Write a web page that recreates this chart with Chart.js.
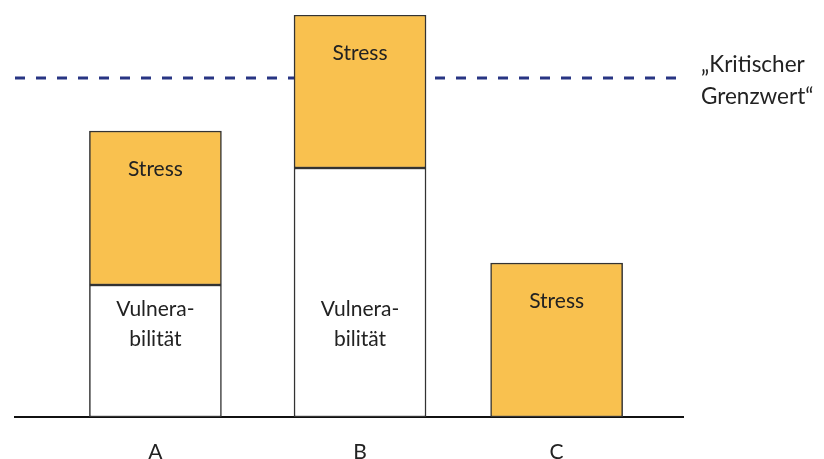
<!DOCTYPE html>
<html>
<head>
<meta charset="utf-8">
<script src="https://cdn.jsdelivr.net/npm/chart.js@4.4.1/dist/chart.umd.min.js"></script>
<style>
  html, body { margin: 0; padding: 0; background: #fff; }
  #wrap { width: 824px; height: 459px; position: relative; }
</style>
</head>
<body>
<div id="wrap"><canvas id="chart"></canvas></div>
<script>
// categories and their positions on the x axis
const categories = ["A", "B", "C"];
const catPos = [1, 2.02, 3];
// stacked segments (arbitrary units)
const vulnerability = [33, 62.25, 0];
const stress = [38.5, 38.25, 38.5];
// critical threshold
const threshold = 84.75;
const thresholdLabel = ["„Kritischer", "Grenzwert“"];
const stressLabel = "Stress";
const vulnLabel = ["Vulnera-", "bilität"];

const TEXT = "#222222";
const FONT = "Lato, 'Open Sans', sans-serif";

// writes the segment labels and the threshold caption
const labelPlugin = {
  id: "labels",
  afterDatasetsDraw(chart) {
    const ctx = chart.ctx;
    ctx.save();
    ctx.fillStyle = TEXT;
    ctx.font = "21px " + FONT;
    ctx.textAlign = "center";
    ctx.textBaseline = "middle";
    const bottom = chart.chartArea.bottom;
    const vMeta = chart.getDatasetMeta(0);
    const sMeta = chart.getDatasetMeta(1);
    vMeta.data.forEach((bar, i) => {
      if (!vulnerability[i]) return;
      const y = Math.max(bar.y + 24, bottom - 108);
      ctx.fillText(vulnLabel[0], bar.x, y);
      ctx.fillText(vulnLabel[1], bar.x, y + 30);
    });
    sMeta.data.forEach((bar, i) => {
      if (!stress[i]) return;
      ctx.fillText(stressLabel, bar.x, bar.y + 38);
    });
    const yT = chart.scales.y.getPixelForValue(threshold);
    ctx.textAlign = "left";
    ctx.font = "22.5px " + FONT;
    ctx.fillText(thresholdLabel[0], chart.chartArea.right + 18, yT - 13);
    ctx.fillText(thresholdLabel[1], chart.chartArea.right + 18, yT + 19);
    ctx.restore();
  }
};

new Chart(document.getElementById("chart"), {
  type: "bar",
  data: {
    datasets: [
      {
        label: "Vulnerabilität",
        data: catPos.map((x, i) => ({ x, y: vulnerability[i] })),
        backgroundColor: "#ffffff",
        borderColor: "#333333",
        borderWidth: 1.5,
        borderSkipped: false,
        barThickness: 132,
        stack: "s",
        order: 1
      },
      {
        label: "Stress",
        data: catPos.map((x, i) => ({ x, y: stress[i] })),
        backgroundColor: "#F9C14F",
        borderColor: "#333333",
        borderWidth: 1.5,
        borderSkipped: false,
        barThickness: 132,
        stack: "s",
        order: 1
      },
      {
        type: "line",
        label: "Kritischer Grenzwert",
        data: [{ x: 0.3, y: threshold }, { x: 3.63, y: threshold }],
        borderColor: "#283583",
        borderWidth: 3,
        borderDash: [10, 11],
        pointRadius: 0,
        stack: "line",
        order: 2
      }
    ]
  },
  options: {
    responsive: true,
    maintainAspectRatio: false,
    animation: false,
    layout: { padding: { left: 15, right: 141, top: 15, bottom: 0 } },
    plugins: { legend: { display: false }, tooltip: { enabled: false } },
    scales: {
      x: {
        type: "linear",
        stacked: true,
        offset: false,
        min: 0.3,
        max: 3.63,
        grid: { display: false, offset: false },
        border: { display: true, color: "#111111", width: 2 },
        afterBuildTicks: (axis) => { axis.ticks = catPos.map(v => ({ value: v })); },
        afterFit: (axis) => { axis.height = 42; },
        ticks: {
          padding: 15,
          color: TEXT,
          font: { size: 21, family: FONT },
          callback: (v) => categories[catPos.indexOf(v)]
        }
      },
      y: {
        stacked: true,
        display: false,
        min: 0,
        max: 100.5
      }
    }
  },
  plugins: [labelPlugin]
});
</script>
</body>
</html>
